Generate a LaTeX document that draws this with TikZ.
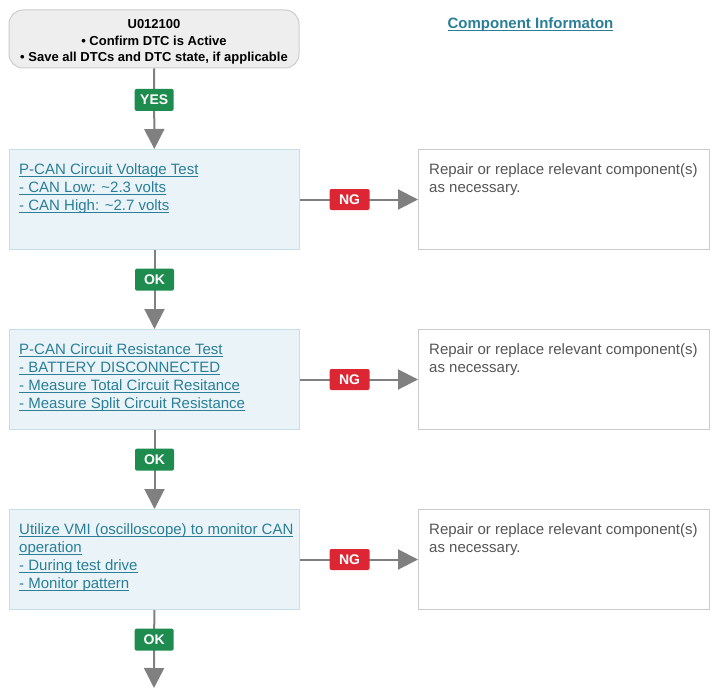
\documentclass[tikz,border=0pt]{standalone}
\usepackage{fontspec}
\setmainfont{Liberation Sans}
\usetikzlibrary{arrows.meta}
\definecolor{linkc}{HTML}{2A7E98}
\definecolor{boxfill}{HTML}{EAF4F8}
\definecolor{boxline}{HTML}{C8DEE7}
\definecolor{topfill}{HTML}{EEEEEE}
\definecolor{greyline}{HTML}{CCCCCC}
\definecolor{connc}{HTML}{808080}
\definecolor{okc}{HTML}{1E8C4E}
\definecolor{ngc}{HTML}{DC2633}
\definecolor{txtgrey}{HTML}{555555}
\newcommand\ulnk[1]{\setbox0\hbox{#1}\rlap{\rule[-2.3pt]{\wd0}{0.7pt}}\box0}
\tikzset{
  topbox/.style={draw=greyline, line width=1pt, fill=topfill, rounded corners=14pt,
    minimum width=290pt, minimum height=58pt, inner sep=0pt, align=center,
    font=\fontsize{13}{16.5}\selectfont\bfseries},
  testbox/.style={draw=boxline, line width=1pt, fill=boxfill, minimum width=290pt,
    minimum height=100pt, inner sep=0pt, anchor=north west},
  repbox/.style={draw=greyline, line width=1pt, fill=white, minimum width=291pt,
    minimum height=100pt, inner sep=0pt, anchor=north west},
  linktext/.style={inner sep=0pt, anchor=north west, align=left, text=linkc,
    font=\fontsize{15}{18}\selectfont},
  reptext/.style={inner sep=0pt, anchor=north west, align=left, text=txtgrey,
    font=\fontsize{15}{18}\selectfont},
  conn/.style={draw=connc, line width=2pt, -{Triangle[length=20pt,width=20pt]}},
  okbadge/.style={fill=okc, text=white, rounded corners=2pt, minimum width=39pt,
    minimum height=22pt, inner sep=0pt, font=\fontsize{14}{14}\selectfont\bfseries},
  ngbadge/.style={fill=ngc, text=white, rounded corners=2pt, minimum width=40pt,
    minimum height=21pt, inner sep=0pt, font=\fontsize{14}{14}\selectfont\bfseries},
}
\begin{document}
\begin{tikzpicture}[x=1pt,y=-1pt]
\useasboundingbox[fill=white] (0,0) rectangle (717,690);

\node[topbox] (start) at (154,39) {\rule{0pt}{15pt}U012100\\ \textbullet\ Confirm DTC is Active\\ \textbullet\ Save all DTCs and DTC state, if applicable};

\node[inner sep=0pt, text=linkc, font=\fontsize{15}{18}\selectfont\bfseries] (comp) at (530.5,25) {\ulnk{Component Informaton}};

% test boxes
\node[testbox] (t1) at (9,149) {};
\node[testbox] (t2) at (9,329) {};
\node[testbox] (t3) at (9,509) {};

\node[linktext] (t1txt) at (19,161.4) {\strut\ulnk{P-CAN Circuit Voltage Test}\\ \ulnk{- CAN Low: \textasciitilde2.3 volts}\\ \ulnk{- CAN High: \textasciitilde2.7 volts}};
\node[linktext] (t2txt) at (19,341.4) {\strut\ulnk{P-CAN Circuit Resistance Test}\\ \ulnk{- BATTERY DISCONNECTED}\\ \ulnk{- Measure Total Circuit Resitance}\\ \ulnk{- Measure Split Circuit Resistance}};
\node[linktext] (t3txt) at (19,521.4) {\strut\ulnk{Utilize VMI (oscilloscope) to monitor CAN}\\ \ulnk{operation}\\ \ulnk{- During test drive}\\ \ulnk{- Monitor pattern}};

% repair boxes
\node[repbox] (r1) at (418,149) {};
\node[repbox] (r2) at (418,329) {};
\node[repbox] (r3) at (418,509) {};
\node[reptext] (r1txt) at (429,161.4) {\strut Repair or replace relevant component(s)\\ as necessary.};
\node[reptext] (r2txt) at (429,341.4) {\strut Repair or replace relevant component(s)\\ as necessary.};
\node[reptext] (r3txt) at (429,521.4) {\strut Repair or replace relevant component(s)\\ as necessary.};

\coordinate (end) at (154,688);

% connectors
\draw[conn] (start) -- node[okbadge, pos=0.39] (yes) {YES} (t1);
\draw[conn] (t1) -- node[okbadge, pos=0.375] (ok1) {OK} (t2);
\draw[conn] (t2) -- node[okbadge, pos=0.375] (ok2) {OK} (t3);
\draw[conn] (t3) -- node[okbadge, pos=0.38] (ok3) {OK} (end);

\draw[conn] (t1.east) -- node[ngbadge, pos=0.42] (ng1) {NG} (r1.west);
\draw[conn] (t2.east) -- node[ngbadge, pos=0.42] (ng2) {NG} (r2.west);
\draw[conn] (t3.east) -- node[ngbadge, pos=0.42] (ng3) {NG} (r3.west);
\end{tikzpicture}
\end{document}
